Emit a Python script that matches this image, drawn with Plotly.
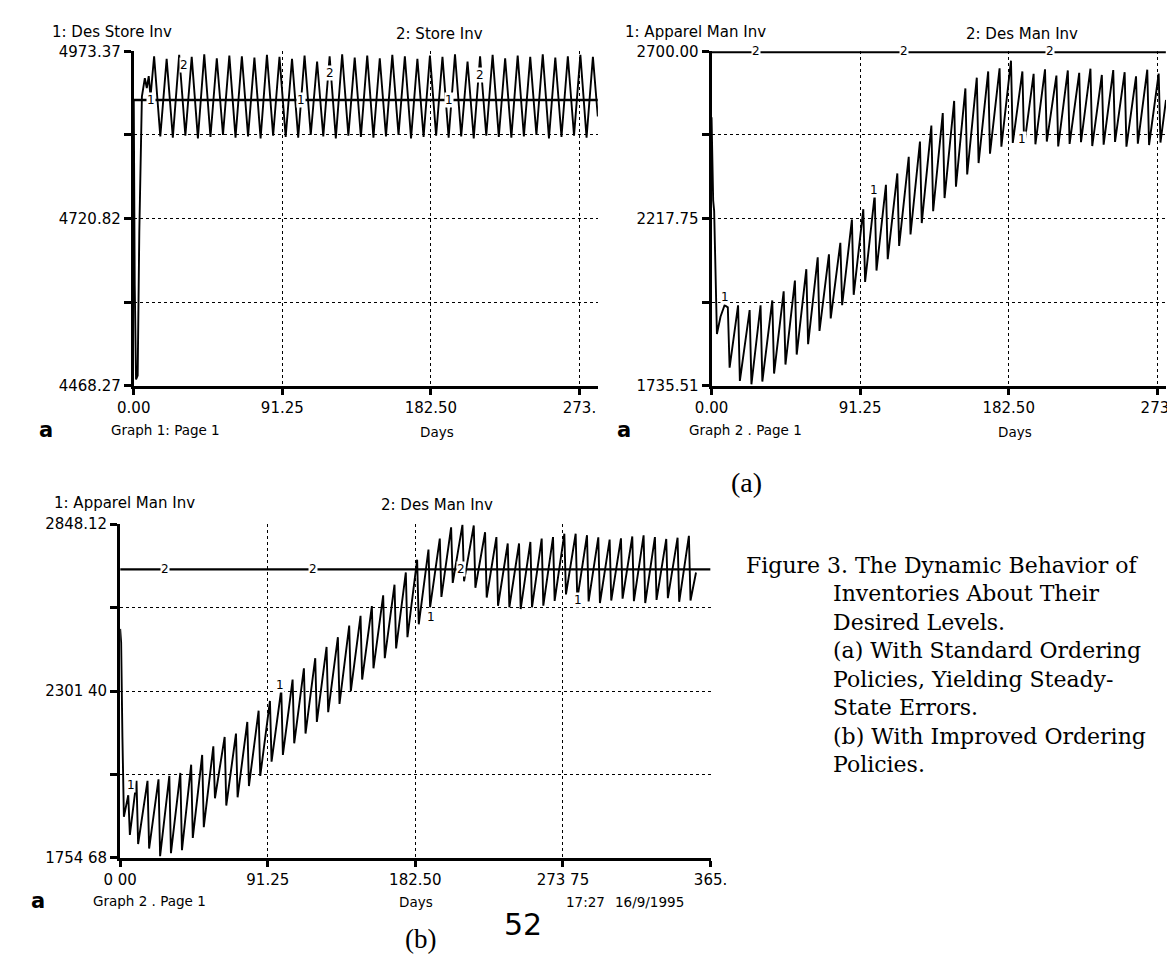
import plotly.graph_objects as go

W, H = 1175, 954
SANS = "DejaVu Sans, Liberation Sans, sans-serif"
SERIF = "Liberation Serif, Times New Roman, serif"
CAPSERIF = "DejaVu Serif, Liberation Serif, serif"

# ---------------- data ----------------
# Graph 1 (top-left): 1: Des Store Inv, 2: Store Inv
A_DES_T = [0.0, 285.0]
A_DES_V = [4900.0, 4900.0]
A_START_T = [0.0, 0.6, 1.4, 2.4, 3.4, 5.0, 6.8, 8.0, 9.2, 10.3]
A_START_V = [4900, 4620, 4478, 4484, 4700, 4905, 4933, 4918, 4936, 4905]
A_PEAK_T = [12.5, 20.2, 27.9, 35.6, 43.3, 51.0, 58.7, 66.4, 74.1, 81.8, 89.5, 97.2,
            104.9, 112.6, 120.3, 128.0, 135.7, 143.4, 151.1, 158.8, 166.5, 174.2,
            181.9, 189.6, 197.3, 205.0, 212.7, 220.4, 228.1, 235.8, 243.5, 251.2,
            258.9, 266.6, 274.3, 282.0]
A_PEAK_V = [4966, 4962, 4968, 4965, 4969, 4963, 4967, 4966, 4964, 4968, 4965, 4962,
            4967, 4958, 4966, 4969, 4964, 4967, 4963, 4968, 4966, 4962, 4967, 4965,
            4969, 4958, 4966, 4968, 4963, 4967, 4965, 4969, 4964, 4966, 4968, 4965]
A_TROUGH_T = [16.3, 24.0, 31.7, 39.4, 47.1, 54.8, 62.5, 70.2, 77.9, 85.6, 93.3, 101.0,
              108.7, 116.4, 124.1, 131.8, 139.5, 147.2, 154.9, 162.6, 170.3, 178.0,
              185.7, 193.4, 201.1, 208.8, 216.5, 224.2, 231.9, 239.6, 247.3, 255.0,
              262.7, 270.4, 278.1]
A_TROUGH_V = [4845, 4843, 4846, 4842, 4844, 4847, 4843, 4845, 4842, 4846, 4844, 4843,
              4847, 4845, 4842, 4846, 4844, 4843, 4845, 4847, 4842, 4844, 4846, 4843,
              4845, 4842, 4846, 4844, 4843, 4845, 4847, 4842, 4844, 4846, 4843]
A_END_T = [285.0]
A_END_V = [4875]

# Graph 2 (top-right): 1: Apparel Man Inv, 2: Des Man Inv (standard policy)
B_DES_T = [0.0, 279.0]
B_DES_V = [2700.0, 2700.0]
B_START_T = [0.0, 0.4, 1.0, 1.6, 2.4, 3.3, 5.5, 8.0, 10.0]
B_START_V = [2510, 2420, 2270, 2240, 2050, 1885, 1935, 1968, 1962]
B_TROUGH_T = [11.1, 17.4, 24.5, 31.2, 38.4, 45.4, 52.3, 59.3, 66.3, 73.2, 80.2, 87.3,
              94.3, 101.3, 108.2, 115.2, 122.2, 129.1, 136.1, 143.1, 150.1, 157.0,
              164.0, 171.0, 178.0, 185.0, 192.0, 198.9, 205.9, 212.9, 219.9, 226.9,
              233.8, 240.8, 247.8, 254.8, 261.8, 268.7, 275.7]
B_TROUGH_V = [1788, 1750, 1740, 1748, 1771, 1797, 1826, 1856, 1894, 1930, 1968, 1998,
              2035, 2068, 2101, 2139, 2172, 2205, 2239, 2277, 2310, 2345, 2378, 2405,
              2425, 2436, 2428, 2432, 2440, 2426, 2433, 2438, 2427, 2431, 2439, 2425,
              2434, 2430, 2437]
B_PEAK_T = [16.3, 23.4, 30.1, 37.3, 44.3, 51.2, 58.2, 65.2, 72.1, 79.1, 86.2, 93.2,
            100.2, 107.1, 114.1, 121.1, 128.0, 135.0, 142.0, 149.0, 155.9, 162.9,
            169.9, 176.9, 183.9, 190.9, 197.8, 204.8, 211.8, 218.8, 225.8, 232.7,
            239.7, 246.7, 253.7, 260.7, 267.6, 274.6]
B_PEAK_V = [1968, 1954, 1968, 1982, 2008, 2039, 2072, 2106, 2115, 2148, 2215, 2245,
            2286, 2315, 2348, 2396, 2440, 2486, 2522, 2557, 2593, 2624, 2642, 2651,
            2673, 2642, 2635, 2648, 2630, 2645, 2638, 2650, 2632, 2646, 2640, 2628,
            2647, 2636]
B_END_T = [279.1]
B_END_V = [2560]

# Graph 2 (bottom): 1: Apparel Man Inv, 2: Des Man Inv (improved policy)
C_DES_T = [0.0, 365.0]
C_DES_V = [2700.0, 2700.0]
C_START_T = [0.0, 0.6, 1.4, 2.3, 5.0, 6.0]
C_START_V = [2505, 2460, 2150, 1889, 1960, 1830]
C_PEAK_T = [10.1, 16.9, 23.7, 30.4, 37.2, 43.9, 50.7, 57.6, 64.6, 71.6, 78.6, 85.6,
            92.6, 99.6, 106.6, 113.6, 120.6, 127.6, 134.6, 141.6, 148.6, 155.6,
            162.6, 169.6, 176.6, 183.6, 190.6, 197.6, 204.6, 211.6, 218.6, 225.6,
            232.6, 239.6, 246.6, 253.6, 260.6, 267.6, 274.6, 281.6, 288.6, 295.6,
            302.6, 309.6, 316.6, 323.6, 330.6, 337.6, 344.6, 351.6]
C_PEAK_V = [2007, 2007, 2012, 2023, 2033, 2060, 2092, 2120, 2151, 2162, 2200, 2237,
            2269, 2307, 2339, 2376, 2409, 2446, 2478, 2516, 2548, 2580, 2615, 2650,
            2690, 2732, 2765, 2801, 2838, 2846, 2844, 2822, 2806, 2785, 2785, 2790,
            2801, 2806, 2817, 2817, 2812, 2805, 2798, 2802, 2808, 2812, 2806, 2800,
            2804, 2810]
C_TROUGH_T = [11.1, 17.9, 24.7, 31.4, 38.2, 44.9, 51.7, 58.6, 65.6, 72.6, 79.6, 86.6,
              93.6, 100.6, 107.6, 114.6, 121.6, 128.6, 135.6, 142.6, 149.6, 156.6,
              163.6, 170.6, 177.6, 184.6, 191.6, 198.6, 205.6, 212.6, 219.6, 226.6,
              233.6, 240.6, 247.6, 254.6, 261.6, 268.6, 275.6, 282.6, 289.6, 296.6,
              303.6, 310.6, 317.6, 324.6, 331.6, 338.6, 345.6, 352.6]
C_TROUGH_V = [1800, 1785, 1760, 1770, 1780, 1820, 1855, 1950, 1926, 1953, 1990, 2023,
              2070, 2092, 2130, 2162, 2200, 2232, 2259, 2301, 2339, 2376, 2409, 2441,
              2478, 2520, 2576, 2610, 2656, 2661, 2640, 2608, 2581, 2576, 2570, 2576,
              2581, 2597, 2618, 2602, 2595, 2590, 2598, 2604, 2596, 2590, 2600, 2606,
              2594, 2598]
C_END_T = [356.0]
C_END_V = [2690]

# axis ticks
TOP_XTICKS = [0.0, 91.25, 182.5, 273.75]
TOP_XLABELS = ["0.00", "91.25", "182.50", "273."]
A_YTICKS = [4468.27, 4594.545, 4720.82, 4847.095, 4973.37]
A_YLABELS = ["4468.27", "", "4720.82", "", "4973.37"]
B_YTICKS = [1735.51, 1976.63, 2217.75, 2458.88, 2700.00]
B_YLABELS = ["1735.51", "", "2217.75", "", "2700.00"]
C_XTICKS = [0.0, 91.25, 182.5, 273.75, 365.0]
C_XLABELS = ["0 00", "91.25", "182.50", "273 75", "365."]
C_YTICKS = [1754.68, 2028.04, 2301.40, 2574.76, 2848.12]
C_YLABELS = ["1754 68", "", "2301 40", "", "2848.12"]

# series number labels (t, value)
A_LAB1 = [(10.7, 4900), (102.6, 4900), (193.6, 4900)]
A_LAB2 = [(30.8, 4952), (120.6, 4940), (212.6, 4937)]
B_LAB1 = [(8.5, 1992), (99.6, 2300), (190.6, 2446)]
B_LAB2 = [(27.0, 2700), (118.0, 2700), (208.0, 2700)]
C_LAB1 = [(6.6, 1992), (99.0, 2322), (192.0, 2545), (283.0, 2600)]
C_LAB2 = [(28.0, 2700), (119.5, 2700), (211.0, 2700)]

CAPTION = ["Figure 3. The Dynamic Behavior of", "Inventories About Their",
           "Desired Levels.", "(a) With Standard Ordering",
           "Policies, Yielding Steady-", "State Errors.",
           "(b) With Improved Ordering", "Policies."]


def merge(*pairs):
    pts = []
    for ts, vs in pairs:
        pts.extend(zip(ts, vs))
    pts.sort(key=lambda p: p[0])
    return [p[0] for p in pts], [p[1] for p in pts]


def px_x(x):
    return x / W


def px_y(y):
    return 1 - y / H


fig = go.Figure()
LINE = dict(color="black", width=1.9)

at, av = merge((A_START_T, A_START_V), (A_PEAK_T, A_PEAK_V), (A_TROUGH_T, A_TROUGH_V), (A_END_T, A_END_V))
fig.add_trace(go.Scatter(x=A_DES_T, y=A_DES_V, mode="lines", line=dict(color="black", width=2.6), xaxis="x", yaxis="y"))
fig.add_trace(go.Scatter(x=at, y=av, mode="lines", line=LINE, xaxis="x", yaxis="y"))

bt, bv = merge((B_START_T, B_START_V), (B_PEAK_T, B_PEAK_V), (B_TROUGH_T, B_TROUGH_V), (B_END_T, B_END_V))
fig.add_trace(go.Scatter(x=B_DES_T, y=B_DES_V, mode="lines", line=dict(color="black", width=4), xaxis="x2", yaxis="y2"))
fig.add_trace(go.Scatter(x=bt, y=bv, mode="lines", line=LINE, xaxis="x2", yaxis="y2"))

ct, cv = merge((C_START_T, C_START_V), (C_PEAK_T, C_PEAK_V), (C_TROUGH_T, C_TROUGH_V), (C_END_T, C_END_V))
fig.add_trace(go.Scatter(x=C_DES_T, y=C_DES_V, mode="lines", line=dict(color="black", width=2.2), xaxis="x3", yaxis="y3"))
fig.add_trace(go.Scatter(x=ct, y=cv, mode="lines", line=LINE, xaxis="x3", yaxis="y3"))


def xax(dom, rng, tv, tt, anchor):
    return dict(domain=dom, range=rng, tickvals=tv, ticktext=tt, anchor=anchor,
                showline=True, linecolor="black", linewidth=3, ticks="outside",
                ticklen=6, tickwidth=3, tickcolor="black", showgrid=True,
                gridcolor="black", griddash="dot", gridwidth=1.4, zeroline=False,
                tickfont=dict(family=SANS, size=15, color="black"), fixedrange=True)


def yax(dom, rng, tv, tt, anchor):
    d = xax(dom, rng, tv, tt, anchor)
    d["ticklen"] = 7
    return d


top_dom = [px_y(376), px_y(35)]
bot_dom = [px_y(857), px_y(517)]
fig.update_layout(
    width=W, height=H, margin=dict(l=0, r=0, t=0, b=0),
    paper_bgcolor="white", plot_bgcolor="white", showlegend=False,
    xaxis=xax([px_x(112), px_x(590)], [0, 285.08], TOP_XTICKS, TOP_XLABELS, "y"),
    yaxis=yax(top_dom, [4468.27, 4973.37], A_YTICKS, A_YLABELS, "x"),
    xaxis2=xax([px_x(707), 1.0], [0, 279.1], TOP_XTICKS, TOP_XLABELS, "y2"),
    yaxis2=yax(top_dom, [1735.51, 2700.0], B_YTICKS, B_YLABELS, "x2"),
    xaxis3=xax([px_x(98), px_x(706)], [0, 365], C_XTICKS, C_XLABELS, "y3"),
    yaxis3=yax(bot_dom, [1754.68, 2848.12], C_YTICKS, C_YLABELS, "x3"),
)

ann = []


def txt(x, y, s, size=15, family=SANS, xanchor="left"):
    ann.append(dict(x=px_x(x), y=px_y(y), xref="paper", yref="paper", text=s,
                    showarrow=False, xanchor=xanchor, yanchor="middle",
                    font=dict(family=family, size=size, color="black")))


for labs, s, xr, yr in [(A_LAB1, "1", "x", "y"), (A_LAB2, "2", "x", "y"),
                        (B_LAB1, "1", "x2", "y2"), (B_LAB2, "2", "x2", "y2"),
                        (C_LAB1, "1", "x3", "y3"), (C_LAB2, "2", "x3", "y3")]:
    for t, v in labs:
        ann.append(dict(x=t, y=v, xref=xr, yref=yr, text=s, showarrow=False,
                        bgcolor="white", borderpad=0,
                        font=dict(family=SANS, size=12, color="black")))

# panel titles and footers
txt(26, 15, "1: Des Store Inv")
txt(380, 17, "2: Store Inv")
txt(616, 15, "1: Apparel Man Inv")
txt(967, 17, "2: Des Man Inv")
txt(28, 495, "1: Apparel Man Inv")
txt(365, 497, "2: Des Man Inv")

txt(22, 421, "<b>a</b>", size=21, xanchor="center")
txt(87, 421, "Graph 1: Page 1", size=13.5)
txt(424, 423, "Days", size=13.5, xanchor="center")
txt(617, 421, "<b>a</b>", size=21, xanchor="center")
txt(682, 421, "Graph 2 . Page 1", size=13.5)
txt(1019, 423, "Days", size=13.5, xanchor="center")
txt(13, 901, "<b>a</b>", size=21, xanchor="center")
txt(68, 901, "Graph 2 . Page 1", size=13.5)
txt(403, 902, "Days", size=13.5, xanchor="center")
txt(555, 902, "17:27", size=13.5)
txt(606, 902, "16/9/1995", size=13.5)

txt(743, 474, "(a)", size=28, family=SERIF, xanchor="center")
txt(407, 940, "(b)", size=27, family=SERIF, xanchor="center")
txt(513, 925, "52", size=30, family="DejaVu Sans", xanchor="center")

cap_y = 559
for i, line in enumerate(CAPTION):
    txt(740 if i == 0 else 830, cap_y + 29 * i, line, size=22, family=CAPSERIF)

fig.update_layout(annotations=ann)
fig.write_html("out.html")
